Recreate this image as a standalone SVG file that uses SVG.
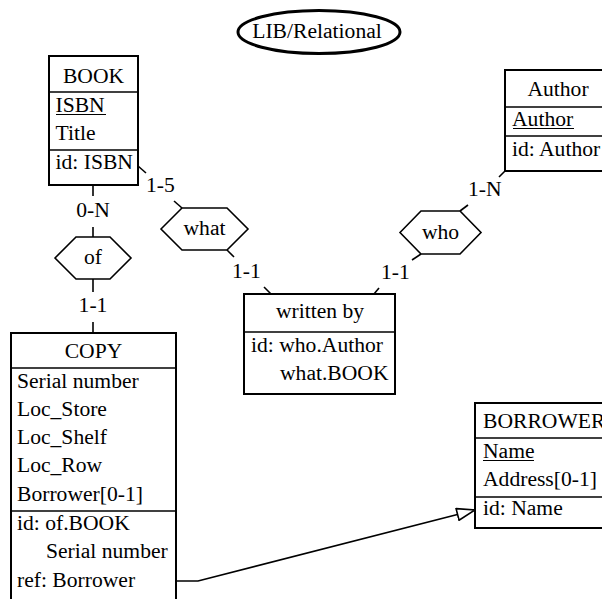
<svg xmlns="http://www.w3.org/2000/svg" width="602" height="599" viewBox="0 0 602 599">
<style>
text{font-family:'Liberation Serif','Times New Roman',Times,serif;font-size:21.6px;fill:#000}
.c{text-anchor:middle}
.box{fill:#fff;stroke:#000;stroke-width:2}
.sep{stroke:#000;stroke-width:1.6}
.ul{stroke:#000;stroke-width:1.2}
.hex{fill:#fff;stroke:#000;stroke-width:1.6}
.ln{stroke:#000;stroke-width:1.6;fill:none}
</style>
<defs>
<marker id="tri" markerUnits="userSpaceOnUse" markerWidth="20" markerHeight="14" refX="18" refY="6" orient="auto" viewBox="-1 -1 20 14">
<path d="M0,0 L18,6 L0,12 Z" fill="#fff" stroke="#000" stroke-width="1.6"/>
</marker>
</defs>
<rect width="602" height="599" fill="#fff"/>
<g id="title">
<ellipse cx="319" cy="32" rx="81" ry="21.5" fill="#fff" stroke="#000" stroke-width="3"/>
<text class="c" x="317" y="38">LIB/Relational</text>
</g>
<g id="connectors">
<line class="ln" x1="93" y1="185" x2="93" y2="196"/>
<line class="ln" x1="93" y1="227" x2="93" y2="237"/>
<line class="ln" x1="93" y1="279" x2="93" y2="292"/>
<line class="ln" x1="93" y1="322" x2="93" y2="333"/>
<line class="ln" x1="138" y1="166" x2="146" y2="173"/>
<line class="ln" x1="174" y1="201" x2="182" y2="208"/>
<line class="ln" x1="227" y1="250" x2="234" y2="257"/>
<line class="ln" x1="264" y1="287" x2="271" y2="294"/>
<line class="ln" x1="421" y1="254" x2="412" y2="260"/>
<line class="ln" x1="379" y1="288" x2="374" y2="294"/>
<line class="ln" x1="505" y1="171" x2="499" y2="177"/>
<line class="ln" x1="468" y1="205" x2="460" y2="211"/>
<polyline class="ln" points="176,581 198,581 475,510" marker-end="url(#tri)"/>
<text class="c" x="93" y="217">0-N</text>
<text class="c" x="93" y="312">1-1</text>
<text x="146" y="192">1-5</text>
<text x="232" y="278">1-1</text>
<text x="381" y="279">1-1</text>
<text x="468" y="196">1-N</text>
</g>
<g id="of">
<polygon class="hex" points="55,258 76,237 110,237 131,258 110,279 76,279"/>
<text class="c" x="93" y="264">of</text>
</g>
<g id="what">
<polygon class="hex" points="161,229 182,208 227,208 248,229 227,250 182,250"/>
<text class="c" x="204.5" y="235">what</text>
</g>
<g id="who">
<polygon class="hex" points="400,232.5 421,211 460,211 481,232.5 460,254 421,254"/>
<text class="c" x="440.5" y="239">who</text>
</g>
<g id="BOOK">
<rect class="box" x="49" y="56" width="89" height="129"/>
<line class="sep" x1="49" y1="92" x2="138" y2="92"/>
<line class="sep" x1="49" y1="150" x2="138" y2="150"/>
<text class="c" x="93.5" y="83">BOOK</text>
<text x="55.5" y="112">ISBN</text>
<line class="ul" x1="56" y1="114.5" x2="106" y2="114.5"/>
<text x="55.5" y="140">Title</text>
<text x="55.5" y="169">id: ISBN</text>
</g>
<g id="Author">
<rect class="box" x="505" y="70" width="106" height="101"/>
<line class="sep" x1="505" y1="107" x2="611" y2="107"/>
<line class="sep" x1="505" y1="136" x2="611" y2="136"/>
<text class="c" x="558" y="96">Author</text>
<text x="512" y="126">Author</text>
<line class="ul" x1="513" y1="128.5" x2="574" y2="128.5"/>
<text x="512" y="156">id: Author</text>
</g>
<g id="written_by">
<rect class="box" x="244" y="294" width="151" height="100"/>
<line class="sep" x1="244" y1="332" x2="395" y2="332"/>
<text class="c" x="320" y="318">written by</text>
<text x="251" y="352">id: who.Author</text>
<text x="280" y="380">what.BOOK</text>
</g>
<g id="COPY">
<rect class="box" x="11" y="333" width="165" height="290"/>
<line class="sep" x1="11" y1="368" x2="176" y2="368"/>
<line class="sep" x1="11" y1="511" x2="176" y2="511"/>
<text class="c" x="93.5" y="358">COPY</text>
<text x="17" y="388">Serial number</text>
<text x="17" y="416">Loc_Store</text>
<text x="17" y="444">Loc_Shelf</text>
<text x="17" y="472">Loc_Row</text>
<text x="17" y="501">Borrower[0-1]</text>
<text x="17" y="530">id: of.BOOK</text>
<text x="46" y="558">Serial number</text>
<text x="17" y="587">ref: Borrower</text>
</g>
<g id="BORROWER">
<rect class="box" x="475" y="403" width="136" height="125"/>
<line class="sep" x1="475" y1="438" x2="611" y2="438"/>
<line class="sep" x1="475" y1="497" x2="611" y2="497"/>
<text x="483" y="428">BORROWER</text>
<text x="483" y="458">Name</text>
<line class="ul" x1="483" y1="460.5" x2="534" y2="460.5"/>
<text x="483" y="486">Address[0-1]</text>
<text x="483" y="515">id: Name</text>
</g>
</svg>
